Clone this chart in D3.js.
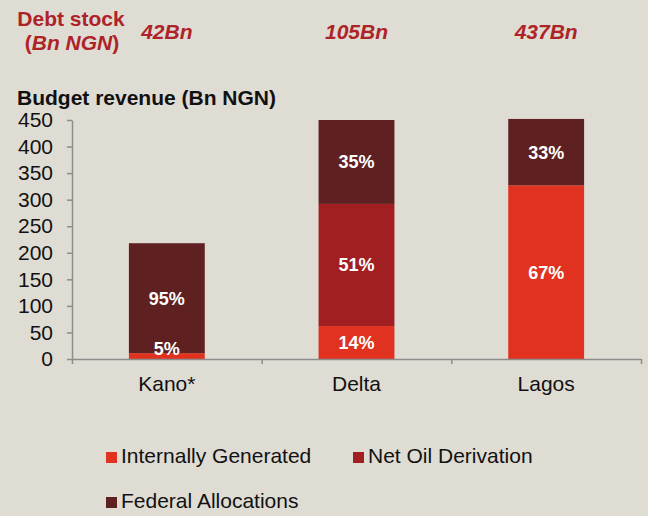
<!DOCTYPE html>
<html>
<head>
<meta charset="utf-8">
<script src="https://cdn.jsdelivr.net/npm/d3@7"></script>
<style>
  body { margin: 0; background: #dfdcd4; }
  svg { display: block; font-family: "Liberation Sans", Arial, sans-serif; }
</style>
</head>
<body>
<svg></svg>
<script>
const states = ['Kano*', 'Delta', 'Lagos'];
const debtStock = ['42Bn', '105Bn', '437Bn'];
const seriesNames = ['Internally Generated', 'Net Oil Derivation', 'Federal Allocations'];
const internallyGenerated = [11, 62, 327];
const netOilDerivation = [0, 230, 0];
const federalAllocations = [207, 158, 125];
const pctLabels = [
    ['5%', '', '95%'],
    ['14%', '51%', '35%'],
    ['67%', '', '33%']
];
const yTicks = [0, 50, 100, 150, 200, 250, 300, 350, 400, 450];
const colors = ['#e0321f', '#a11e21', '#5e2021'];

const [W, H] = [648, 516];
const margin = { top: 120, right: 7, bottom: 157, left: 72 };
const chartW = W - margin.left - margin.right;
const chartH = H - margin.top - margin.bottom;

const rows = states.map((s, i) => ({
    state: s,
    ig: internallyGenerated[i],
    nod: netOilDerivation[i],
    fa: federalAllocations[i]
}));
const keys = ['ig', 'nod', 'fa'];
const stacked = d3.stack().keys(keys)(rows);

const x = d3.scaleBand()
    .domain(states)
    .range([0, chartW])
    .paddingInner(0.6)
    .paddingOuter(0.3);

const xEdge = d3.scaleLinear().domain([0, states.length]).range([0, chartW]);

const y = d3.scaleLinear()
    .domain([0, 450])
    .range([chartH, 0]);

const svg = d3.select('svg')
    .attr('width', W)
    .attr('height', H);

const g = svg.append('g')
    .attr('transform', `translate(${[margin.left, margin.top]})`);

// bars
g.selectAll('g.series')
    .data(stacked)
    .join('g')
    .attr('class', 'series')
    .attr('fill', (d, i) => colors[i])
    .selectAll('rect')
    .data(d => d)
    .join('rect')
    .attr('x', d => x(d.data.state))
    .attr('y', d => y(d[1]))
    .attr('width', x.bandwidth())
    .attr('height', d => y(d[0]) - y(d[1]));

// percentage labels
stacked.forEach((s, si) => {
    g.append('g').selectAll('text')
        .data(s)
        .join('text')
        .attr('x', d => x(d.data.state) + x.bandwidth() / 2)
        .attr('y', d => Math.min((y(d[0]) + y(d[1])) / 2, chartH - 10))
        .attr('dy', '0.36em')
        .attr('text-anchor', 'middle')
        .attr('fill', '#fff')
        .attr('font-weight', 'bold')
        .attr('font-size', 18)
        .text((d, i) => pctLabels[i][si]);
});

// y axis
const yAxis = g.append('g')
    .call(d3.axisLeft(y).tickValues(yTicks).tickSize(5).tickSizeOuter(0).tickPadding(14));
yAxis.selectAll('text').attr('font-size', 21).attr('fill', '#111').attr('font-family', '"Liberation Sans", Arial, sans-serif');

// x axis: boundary ticks + labels
const xAxis = g.append('g')
    .attr('transform', `translate(0,${chartH})`)
    .call(d3.axisBottom(xEdge).tickValues(d3.range(states.length + 1)).tickFormat('').tickSize(5).tickSizeOuter(0));
const xLabels = g.append('g')
    .attr('transform', `translate(0,${chartH})`)
    .call(d3.axisBottom(x).tickSize(0).tickPadding(17));
xLabels.select('.domain').remove();
xLabels.selectAll('text').attr('font-size', 21).attr('fill', '#111').attr('font-family', '"Liberation Sans", Arial, sans-serif');

g.selectAll('.domain, .tick line').attr('stroke', '#8c8c8a').attr('stroke-width', 1.5);

// titles
svg.append('text')
    .attr('x', 17).attr('y', 105)
    .attr('font-size', 21).attr('font-weight', 'bold').attr('fill', '#111')
    .text('Budget revenue (Bn NGN)');

const red = '#ae2328';
svg.append('text')
    .attr('x', 71).attr('y', 26)
    .attr('text-anchor', 'middle')
    .attr('font-size', 21).attr('font-weight', 'bold').attr('fill', red)
    .text('Debt stock');
const sub = svg.append('text')
    .attr('x', 72).attr('y', 50)
    .attr('text-anchor', 'middle')
    .attr('font-size', 21).attr('font-weight', 'bold').attr('fill', red);
sub.append('tspan').text('(');
sub.append('tspan').attr('font-style', 'italic').text('Bn NGN');
sub.append('tspan').text(')');

svg.append('g').selectAll('text')
    .data(debtStock)
    .join('text')
    .attr('x', (d, i) => margin.left + x(states[i]) + x.bandwidth() / 2)
    .attr('y', 39)
    .attr('text-anchor', 'middle')
    .attr('font-size', 21).attr('font-weight', 'bold').attr('font-style', 'italic')
    .attr('fill', red)
    .text(d => d);

// legend
const legendPos = [[106, 463], [353, 463], [106, 508]];
const legend = svg.append('g').selectAll('g')
    .data(seriesNames)
    .join('g')
    .attr('transform', (d, i) => `translate(${legendPos[i]})`);
legend.append('rect')
    .attr('x', 0).attr('y', -11)
    .attr('width', 11).attr('height', 11)
    .attr('fill', (d, i) => colors[i]);
legend.append('text')
    .attr('x', 15).attr('y', 0)
    .attr('font-size', 21).attr('fill', '#111')
    .text(d => d);
</script>
</body>
</html>
